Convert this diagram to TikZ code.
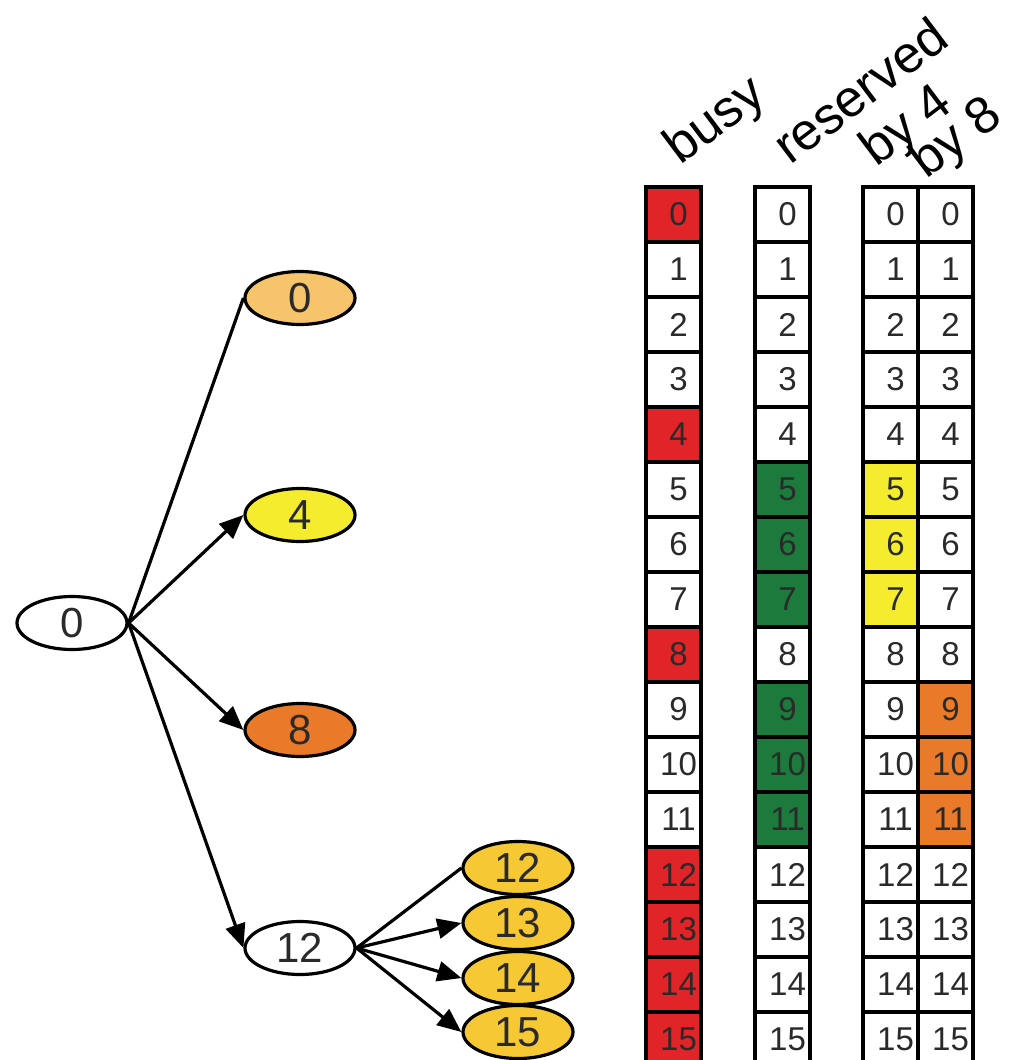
\documentclass[tikz,border=0pt]{standalone}
\usepackage{fontspec}
\setmainfont{Liberation Sans}
\usetikzlibrary{arrows.meta, positioning, shapes}

\definecolor{busyred}{HTML}{E02427}
\definecolor{resgreen}{HTML}{1C7A3C}
\definecolor{fouryellow}{HTML}{F4EC2C}
\definecolor{eightorange}{HTML}{E87A2A}
\definecolor{lightorange}{HTML}{F6C46A}
\definecolor{leafgold}{HTML}{F6C833}
\definecolor{digit}{HTML}{2A2A2A}

\tikzset{
	blk/.style={ellipse, draw, line width=3.2pt, minimum width=110pt, minimum height=53pt,
		inner sep=0pt, text=digit, font=\fontsize{42}{42}\selectfont},
	edge/.style={line width=3.2pt},
	arr/.style={edge, -{Triangle[length=24pt, width=20pt]}},
	cell/.style={draw, line width=3.5pt, minimum width=55pt, minimum height=55pt, inner sep=0pt},
	num/.style={text=digit, font=\fontsize{33}{33}\selectfont, inner sep=0pt},
	head/.style={rotate=37, anchor=base west, inner sep=0pt, font=\fontsize{52}{52}\selectfont},
}

\begin{document}
	\begin{tikzpicture}[x=1pt, y=-1pt]
		\useasboundingbox (0,0) rectangle (1010,1060);
		
		% Tree of blocks
		\node[blk] (root) at (72,623) {0};
		\node[blk, fill=lightorange] (c0) at (300,298) {0};
		\node[blk, fill=fouryellow] (c4) at (300,515) {4};
		\node[blk, fill=eightorange] (c8) at (300,730) {8};
		\node[blk] (c12) at (300,948) {12};
		
		\foreach \n/\y in {12/868, 13/923, 14/978, 15/1032}
			\node[blk, fill=leafgold] (leaf\n) at (518,\y) {\n};
		
		% Edges
		\draw[edge] (root.east) -- (c0.west);
		\draw[arr] (root.east) -- (c4.west);
		\draw[arr] (root.east) -- (c8.west);
		\draw[arr] (root.east) -- (c12.west);
		
		\draw[edge] (c12.east) -- (leaf12.west);
		\foreach \n in {13,14,15}
			\draw[arr] (c12.east) -- (leaf\n.west);
		
		% Column headers
		\node[head] at (680,166) {busy};
		\node[head] at (790,166) {reserved};
		\node[head] at (876,168) {by 4};
		\node[head] at (926,180) {by 8};
		
		% Bitmap columns: row / busy / reserved / by 4 / by 8
		\foreach \i/\b/\r/\f/\e in {
			0/busyred/white/white/white,
			1/white/white/white/white,
			2/white/white/white/white,
			3/white/white/white/white,
			4/busyred/white/white/white,
			5/white/resgreen/fouryellow/white,
			6/white/resgreen/fouryellow/white,
			7/white/resgreen/fouryellow/white,
			8/busyred/white/white/white,
			9/white/resgreen/white/eightorange,
			10/white/resgreen/white/eightorange,
			11/white/resgreen/white/eightorange,
			12/busyred/white/white/white,
			13/busyred/white/white/white,
			14/busyred/white/white/white,
			15/busyred/white/white/white}{
			\node[cell, fill=\b] (busy\i) at (673.5,214.5+55*\i) {};
			\node[cell, fill=\r] (res\i) at (782.5,214.5+55*\i) {};
			\node[cell, fill=\f] (byfour\i) at (890.5,214.5+55*\i) {};
			\node[cell, fill=\e] (byeight\i) at (945.5,214.5+55*\i) {};
			\foreach \c in {busy, res, byfour, byeight}
				\node[num] at ([xshift=5pt]\c\i) {\i};
		}
	\end{tikzpicture}
\end{document}
